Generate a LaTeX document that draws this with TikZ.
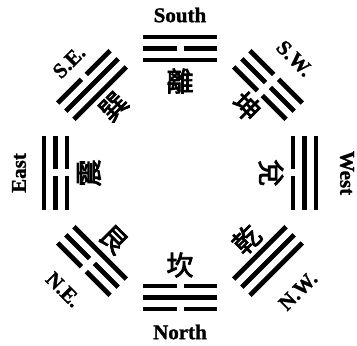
\documentclass[tikz,border=0pt]{standalone}
\usepackage{fontspec}
\newfontfamily\cjk[FakeBold=3]{Noto Sans CJK TC}
\newfontfamily\labfont[FakeBold=1.2]{Liberation Serif}
\tikzset{
  yao/.style={line width=4.8pt, line cap=butt},
  hanzi/.style={font=\cjk\fontsize{27}{27}\selectfont, inner sep=0pt},
  dirlab/.style={font=\labfont\bfseries\fontsize{21}{21}\selectfont, inner sep=0pt},
}
\newcommand\yaoline[2]{%
  \ifnum#2=1
    \draw[yao] (-37,#1) -- (37,#1);
  \else
    \draw[yao] (-37,#1) -- (-3.5,#1);
    \draw[yao] (3.5,#1) -- (37,#1);
  \fi}
% angle, bottom (outer), middle, top (inner)
\newcommand\trig[4]{%
  \begin{scope}[shift={(180,173)},rotate=#1-90]
    \yaoline{136}{#2}\yaoline{124.5}{#3}\yaoline{113}{#4}
  \end{scope}}
\begin{document}
\begin{tikzpicture}[x=1pt,y=1pt]
\useasboundingbox (0,0) rectangle (357,346);
\coordinate (C) at (180,173);
% trigrams
\trig{90}{1}{0}{1}   % South  Li
\trig{270}{0}{1}{0}  % North  Kan
\trig{180}{1}{0}{0}  % East   Zhen
\trig{0}{1}{1}{0}    % West   Dui
\trig{135}{0}{1}{1}  % SE     Xun
\trig{45}{0}{0}{0}   % SW     Kun
\trig{315}{1}{1}{1}  % NW     Qian
\trig{225}{0}{0}{1}  % NE     Gen
% characters
\node[hanzi] (li)   at ([shift={(90:92)}]C) {離};
\node[hanzi] (kan)  at ([shift={(270:92)}]C) {坎};
\node[hanzi, rotate=90]  (zhen) at ([shift={(180:91)}]C) {震};
\node[hanzi, rotate=-90] (dui)  at ([shift={(0:91)}]C) {兌};
\node[hanzi, rotate=45]  (xun)  at ([shift={(135:94)}]C) {巽};
\node[hanzi, rotate=-45] (kun)  at ([shift={(45:94)}]C) {坤};
\node[hanzi, rotate=45]  (qian) at ([shift={(315:94)}]C) {乾};
\node[hanzi, rotate=-45] (gen)  at ([shift={(225:94)}]C) {艮};
% direction labels
\node[dirlab] (south) at ([shift={(90:158)}]C) {South};
\node[dirlab] (north) at ([shift={(270:159)}]C) {North};
\node[dirlab, rotate=90]  (east) at ([shift={(180:161)}]C) {East};
\node[dirlab, rotate=-90] (west) at ([shift={(0:167)}]C) {West};
\node[dirlab, rotate=45]  (se) at ([shift={(135:157)}]C) {S.E.};
\node[dirlab, rotate=-45] (sw) at ([shift={(45:162)}]C) {S.W.};
\node[dirlab, rotate=-45] (ne) at ([shift={(225:165)}]C) {N.E.};
\node[dirlab, rotate=45]  (nw) at ([shift={(315:167)}]C) {N.W.};
\end{tikzpicture}
\end{document}
